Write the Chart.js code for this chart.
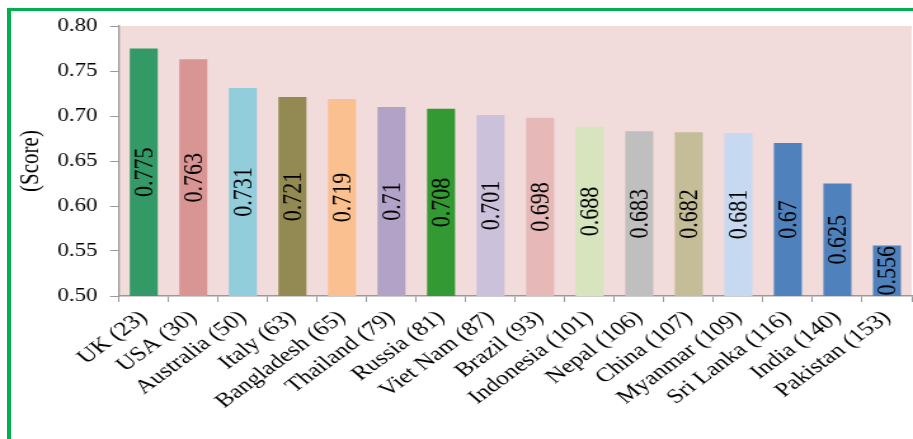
<!DOCTYPE html>
<html>
<head>
<meta charset="utf-8">
<script src="https://cdn.jsdelivr.net/npm/chart.js@4"></script>
<style>
  html, body { margin: 0; padding: 0; background: #fff; overflow: hidden; }
  #wrap { position: relative; width: 913px; height: 439px; overflow: hidden; }
  #frame {
    position: absolute; left: 7px; top: 8px; width: 920px; height: 450px;
    border-left: 4px solid #00B050; border-top: 3px solid #00B050;
  }
  /* el grafico se dibuja mas estrecho y se estira en horizontal */
  canvas { position: absolute; left: 0; top: 0; transform-origin: 0 0; }
</style>
</head>
<body>
<div id="wrap">
  <div id="frame"></div>
  <canvas id="myChart"></canvas>
</div>
<script>
// paises y su posicion en el ranking
const countries = ["UK (23)", "USA (30)", "Australia (50)", "Italy (63)", "Bangladesh (65)",
  "Thailand (79)", "Russia (81)", "Viet Nam (87)", "Brazil (93)", "Indonesia (101)",
  "Nepal (106)", "China (107)", "Myanmar (109)", "Sri Lanka (116)", "India (140)", "Pakistan (153)"];
const scores = [0.775, 0.763, 0.731, 0.721, 0.719, 0.71, 0.708, 0.701, 0.698, 0.688,
  0.683, 0.682, 0.681, 0.67, 0.625, 0.556];
const barColors = ["#339966", "#D99594", "#92CDDC", "#938953", "#FAC090", "#B2A2C7",
  "#339933", "#CCC1DA", "#E6B9B8", "#D7E4BD", "#BFBFBF", "#C4BD97", "#C6D9F1",
  "#4F81BD", "#4F81BD", "#4F81BD"];
const yTicks = [0.50, 0.55, 0.60, 0.65, 0.70, 0.75, 0.80];

const serif = "'Liberation Serif', 'DejaVu Serif', serif";
const STRETCH = 1.27;
const W = Math.round(913 / STRETCH);

const canvas = document.getElementById("myChart");
canvas.width = W;
canvas.height = 439;
canvas.style.transform = "scaleX(" + (913 / W) + ")";

// fondo rosado del area del grafico
const areaBg = {
  id: "areaBg",
  beforeDraw(chart) {
    const { ctx, chartArea: a } = chart;
    ctx.save();
    ctx.fillStyle = "#F2DCDB";
    ctx.fillRect(a.left, a.top, a.right - a.left, a.bottom - a.top);
    ctx.restore();
  }
};

// etiquetas de valor giradas dentro de cada barra
const barLabels = {
  id: "barLabels",
  afterDatasetsDraw(chart) {
    const ctx = chart.ctx;
    const meta = chart.getDatasetMeta(0);
    const bottom = chart.scales.y.getPixelForValue(chart.scales.y.min);
    ctx.save();
    ctx.font = "22px " + serif;
    ctx.fillStyle = "#000";
    ctx.textAlign = "center";
    ctx.textBaseline = "middle";
    meta.data.forEach((bar, i) => {
      const cy = (bar.y + bottom) / 2;
      ctx.save();
      ctx.translate(bar.x, cy);
      ctx.rotate(-Math.PI / 2);
      ctx.fillText(String(scores[i]), 0, 1);
      ctx.restore();
    });
    ctx.restore();
  }
};

const ctx = canvas.getContext("2d");
new Chart(ctx, {
  type: "bar",
  data: {
    labels: countries,
    datasets: [{
      data: scores,
      backgroundColor: barColors,
      borderWidth: 0,
      categoryPercentage: 1,
      barPercentage: 0.565
    }]
  },
  options: {
    responsive: false,
    animation: false,
    layout: { padding: { top: 26, right: 1, left: 0, bottom: 0 } },
    plugins: { legend: { display: false }, tooltip: { enabled: false } },
    scales: {
      x: {
        grid: { drawOnChartArea: false, color: "#999", tickLength: 6 },
        border: { color: "#999", width: 1.5 },
        ticks: {
          color: "#000",
          font: { family: serif, size: 20 },
          minRotation: 43,
          maxRotation: 43,
          autoSkip: false,
          padding: 4
        },
        afterFit(scale) { scale.height = 143; }
      },
      y: {
        min: 0.5,
        max: 0.8,
        afterBuildTicks(scale) { scale.ticks = yTicks.map(v => ({ value: v })); },
        grid: { drawOnChartArea: false, color: "#999", tickLength: 7 },
        border: { color: "#999", width: 1.3 },
        ticks: {
          color: "#000",
          font: { family: serif, size: 18 },
          padding: 10,
          callback: v => v.toFixed(2)
        },
        title: {
          display: true,
          text: "(Score)",
          color: "#000",
          font: { family: serif, size: 21 },
          padding: { top: 12, bottom: 0 }
        },
        afterFit(scale) { scale.width = 119 / STRETCH; }
      }
    }
  },
  plugins: [areaBg, barLabels]
});
</script>
</body>
</html>
